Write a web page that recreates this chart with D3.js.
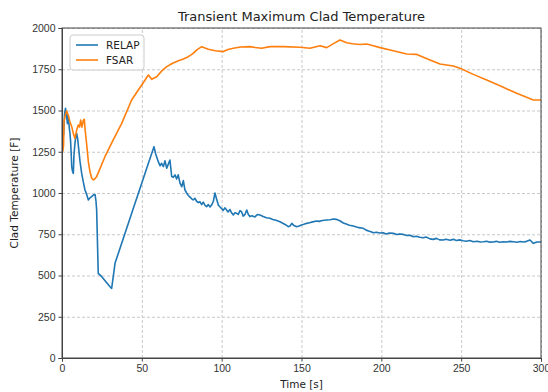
<!DOCTYPE html>
<html>
<head>
<meta charset="utf-8">
<script src="https://cdn.jsdelivr.net/npm/d3@7"></script>
<style>
  body { margin: 0; background: #fff; }
  svg { font-family: "DejaVu Sans", sans-serif; }
  .axis text { font-size: 10.5px; fill: #333; }
  .axis path, .axis line { stroke: #444; }
  .grid line { stroke: #c8c8c8; stroke-dasharray: 3,2; }
  .grid path { display: none; }
</style>
</head>
<body>
<div class="chart"></div>
<script>
const width = 548, height = 392
const margin = { top: 28, right: 7, bottom: 34, left: 62 }
const w = width - margin.left - margin.right
const h = height - margin.top - margin.bottom

// RELAP series (time [s], temperature [F])
const relapTime = [1.0, 1.6, 2.2, 2.8, 3.4, 3.9, 4.6, 5.0, 5.4, 5.8, 6.1, 6.6, 7.1, 7.5, 8.1, 8.7, 9.2, 9.8, 10.2, 11.3,
  12.3, 13.3, 14.4, 15.5, 16.5, 17.5, 18.6, 19.6, 20.7, 21.3, 21.7, 22.7, 24.9, 27.5, 30.1, 31.1, 32.1, 33.2, 40, 45,
  50, 54, 57.6, 58.6, 60.3, 61.4, 62.4, 63.5, 64.5, 65.6, 66.6, 67.6, 68.7, 69.7, 70.8, 71.8, 72.8, 73.9, 75, 76,
  77, 78.1, 79.1, 80.2, 81.2, 82.2, 83.3, 84.3, 85.4, 86.4, 87.5, 88.5, 89.6, 90.6, 91.6, 92.7, 93.7, 94.8, 95.8, 96.9,
  97.9, 99, 100, 101, 102, 103.1, 104, 105.2, 106.2, 107.3, 108.3, 109.4, 110.4, 111.5, 112.5, 113.5, 114.6, 115.7, 116.7, 117.7,
  119, 120.8, 122.5, 124, 126, 128, 130.3, 132, 134, 136.5, 138, 140, 141.7, 142.8, 143.9, 145, 147, 148.5, 150, 151.5,
  153.3, 155, 157, 159.5, 161, 163, 165.8, 168, 170, 172, 174, 176.2, 178, 180, 182.4, 184, 186, 188.7, 190.5, 192,
  193.5, 195, 197, 199, 201.2, 203, 205, 207.5, 209.5, 211.5, 213.8, 216, 218, 220, 222, 224, 226.3, 228, 230.5, 232.5,
  234.5, 236.5, 238.8, 240.5, 243, 245.1, 247, 249, 251.3, 253, 255.5, 257.6, 260, 262, 263.9, 266, 268, 270.1, 272, 274,
  276.4, 278.5, 280.5, 282.7, 285, 287, 289, 291, 293.1, 295.2, 297.5, 299.4, 300]
const relapTemp = [1350, 1480, 1513, 1470, 1420, 1473, 1392, 1360, 1311, 1230, 1160, 1130, 1119, 1230, 1300, 1345, 1361, 1330, 1291, 1190,
  1120, 1069, 1018, 990, 958, 970, 978, 988, 990, 950, 897, 513, 493, 462, 432, 422, 493, 574, 771, 916,
  1061, 1177, 1281, 1240, 1190, 1165, 1180, 1160, 1195, 1150, 1175, 1200, 1100, 1095, 1110, 1085, 1110, 1060, 1038, 1075,
  1018, 1000, 985, 975, 965, 958, 968, 950, 942, 947, 930, 945, 925, 917, 930, 915, 927, 950, 1000, 960,
  927, 915, 905, 895, 910, 897, 885, 900, 880, 867, 880, 877, 870, 893, 885, 860, 870, 897, 870, 857,
  862, 855, 870, 867, 858, 850, 847, 840, 835, 826, 818, 808, 796, 800, 816, 805, 796, 800, 806, 810,
  816, 820, 825, 830, 828, 833, 836, 838, 842, 840, 832, 818, 812, 805, 800, 795, 790, 786, 775, 770,
  765, 759, 762, 758, 759, 752, 758, 756, 748, 752, 749, 742, 744, 735, 738, 732, 729, 733, 722, 719,
  725, 716, 715, 720, 714, 719, 712, 716, 711, 708, 712, 705, 708, 703, 705, 708, 702, 703, 707, 701,
  705, 703, 707, 705, 702, 706, 703, 707, 715, 695, 703, 703, 703]

// FSAR series
const fsarTime = [0.5, 1.0, 1.25, 2.0, 2.9, 3.9, 5.0, 6.1, 7.1, 8.1, 9.2, 10.2, 11.0, 11.7, 12.5, 13.4, 14.0, 14.4, 15.5, 16.5,
  17.5, 18.6, 19.6, 20.5, 21.7, 26.9, 32, 37.4, 43.6, 47.8, 51, 54.1, 56.2, 59.3, 62.5, 65.6, 69, 72.9, 76, 79.1,
  82, 84.4, 87.5, 91.6, 96, 101, 104, 107.3, 112, 117.7, 121, 125, 130.3, 138.6, 149, 155.3, 161.6, 165.8, 170, 174.1,
  178.3, 182, 186.6, 190.8, 195, 199.2, 207.5, 215.9, 222.2, 230.5, 236.7, 245.1, 249.3, 257.6, 266, 274.3, 284.8, 295.2, 300]
const fsarTemp = [1250, 1290, 1432, 1470, 1497, 1473, 1430, 1402, 1360, 1331, 1382, 1412, 1400, 1442, 1400, 1442, 1447, 1391, 1290, 1190,
  1130, 1089, 1079, 1085, 1099, 1220, 1320, 1422, 1564, 1624, 1670, 1715, 1689, 1705, 1740, 1766, 1785, 1802, 1812, 1826,
  1845, 1867, 1887, 1871, 1862, 1857, 1870, 1877, 1885, 1887, 1882, 1877, 1887, 1887, 1883, 1877, 1893, 1881, 1905, 1927,
  1911, 1905, 1900, 1903, 1892, 1881, 1862, 1842, 1840, 1806, 1782, 1770, 1756, 1719, 1685, 1650, 1604, 1564, 1564]

const xTicks = [0, 50, 100, 150, 200, 250, 300]
const yTicks = [0, 250, 500, 750, 1000, 1250, 1500, 1750, 2000]

const series = [
  { name: 'RELAP', color: '#1f77b4', values: relapTime.map((t, i) => [t, relapTemp[i]]) },
  { name: 'FSAR', color: '#ff7f0e', values: fsarTime.map((t, i) => [t, fsarTemp[i]]) }
]

const svg = d3.select('.chart').append('svg')
    .attr('width', width)
    .attr('height', height)

const g = svg.append('g')
    .attr('transform', 'translate(' + margin.left + ',' + margin.top + ')')

const x = d3.scaleLinear().domain([0, 300]).range([0, w])
const y = d3.scaleLinear().domain([0, 2000]).range([h, 0])

// grid
g.append('g').attr('class', 'grid')
    .attr('transform', 'translate(0,' + h + ')')
    .call(d3.axisBottom(x).tickValues(xTicks).tickSize(-h).tickFormat(''))
g.append('g').attr('class', 'grid')
    .call(d3.axisLeft(y).tickValues(yTicks).tickSize(-w).tickFormat(''))

const line = d3.line()
    .x(d => x(d[0]))
    .y(d => y(d[1]))

g.append('g').selectAll('path')
    .data(series)
    .enter().append('path')
    .attr('d', d => line(d.values))
    .attr('fill', 'none')
    .attr('stroke', d => d.color)
    .attr('stroke-width', 1.6)
    .attr('stroke-linejoin', 'round')

// frame
g.append('rect')
    .attr('width', w).attr('height', h)
    .attr('fill', 'none')
    .attr('stroke', '#444')
    .attr('stroke-width', 1)

g.append('g').attr('class', 'axis')
    .attr('transform', 'translate(0,' + h + ')')
    .call(d3.axisBottom(x).tickValues(xTicks).tickSize(3.5).tickPadding(3).tickFormat(d3.format('d')))
g.append('g').attr('class', 'axis')
    .call(d3.axisLeft(y).tickValues(yTicks).tickSize(3.5).tickPadding(3).tickFormat(d3.format('d')))

svg.append('text')
    .attr('x', margin.left + w / 2)
    .attr('y', 21)
    .attr('text-anchor', 'middle')
    .style('font-size', '13px')
    .style('fill', '#222')
    .text('Transient Maximum Clad Temperature')

svg.append('text')
    .attr('x', margin.left + w / 2)
    .attr('y', 388)
    .attr('text-anchor', 'middle')
    .style('font-size', '10.5px')
    .style('fill', '#222')
    .text('Time [s]')

svg.append('text')
    .attr('transform', 'translate(18,' + (margin.top + h / 2) + ') rotate(-90)')
    .attr('text-anchor', 'middle')
    .style('font-size', '10.5px')
    .style('fill', '#222')
    .text('Clad Temperature [F]')

// legend
const legend = g.append('g').attr('transform', 'translate(8,7)')
legend.append('rect')
    .attr('width', 74).attr('height', 35)
    .attr('rx', 3)
    .attr('fill', '#fff')
    .attr('fill-opacity', 0.85)
    .attr('stroke', '#ccc')
const items = legend.selectAll('.item')
    .data(series)
    .enter().append('g')
    .attr('transform', (d, i) => 'translate(6,' + (10 + i * 15) + ')')
items.append('line')
    .attr('x1', 0).attr('x2', 22)
    .attr('stroke', d => d.color)
    .attr('stroke-width', 1.6)
items.append('text')
    .attr('x', 30).attr('dy', '0.35em')
    .style('font-size', '10.5px')
    .style('fill', '#222')
    .text(d => d.name)
</script>
</body>
</html>
